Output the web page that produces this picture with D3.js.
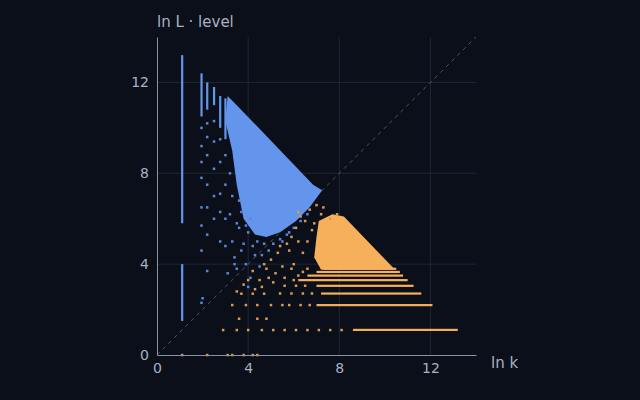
<!DOCTYPE html>
<html><head><meta charset="utf-8">
<script src="https://cdn.jsdelivr.net/npm/d3@7"></script>
<style>body{margin:0;background:#0a0f1a}svg{display:block}</style></head>
<body><svg id="c" width="640" height="400"></svg>
<script>
// Dense regions (outline of packed points)
const blueDense = [[3.1,11.4],[3.5,11.0],[6.85,7.5],[7.25,7.25],[6.7,6.5],[6.1,5.9],[5.4,5.4],[4.8,5.2],[4.3,5.3],[3.8,6.0],[3.5,7.5],[3.3,9.0],[3.0,10.3]];
const orangeDense = [[7.1,5.9],[7.7,6.2],[8.2,6.1],[10.45,3.75],[7.2,3.75],[6.9,4.3],[7.0,5.2]];
// Blue vertical runs: x, yLow, yHigh
const blueRuns = [[1.1,5.8,13.2],[1.1,1.5,4.0],[1.95,10.5,12.4],[2.2,10.8,12.0],[2.5,11.0,11.8],[2.77,10.0,11.4],[3.0,9.5,11.3]];
// Orange horizontal runs: y, xLow, xHigh
const orangeRuns = [[3.80,7.3,10.5],[3.66,7.0,10.66],[3.50,6.6,10.8],[3.30,6.2,11.0],[3.05,7.0,11.26],[2.71,7.2,11.6],[2.20,7.0,12.09],[1.11,8.6,13.2]];
// Sparse points
const bluePts = [[1.95,10.0],[1.95,9.2],[1.95,8.5],[1.95,7.8],[1.95,6.5],[1.95,5.7],[1.95,4.6],[2.2,10.2],[2.2,9.6],[2.2,8.8],[2.2,7.5],[2.2,6.5],[2.2,5.3],[2.2,3.7],[2.5,10.3],[2.5,9.4],[2.5,8.2],[2.5,7.0],[2.5,6.0],[2.77,9.5],[2.77,8.5],[2.77,7.1],[2.77,6.3],[2.77,5.0],[3.0,8.8],[3.0,7.5],[3.0,6.0],[3.0,4.8],[3.2,8.0],[3.2,6.2],[3.3,5.0],[3.3,7.0],[3.4,4.3],[3.5,3.8],[3.5,5.8],[3.6,6.8],[3.7,4.6],[3.9,4.0],[4.1,3.4],[4.3,4.4],[4.5,3.9],[4.6,4.4],[4.9,4.6],[3.6,5.6],[3.8,4.9],[4.0,5.4],[4.2,4.8],[4.4,5.0],[4.7,4.9],[5.1,4.9],[5.4,5.1],[5.7,5.3],[6.0,5.6],[6.3,5.9],[6.6,6.2],[2.0,2.5],[1.95,2.3],[5.5,5.0],[5.8,5.4],[4.0,3.0],[3.4,4.0],[3.1,3.6],[3.9,5.7],[3.7,6.3],[4.1,6.0]];
const orangePts = [[4.2,3.7],[4.5,3.3],[4.8,3.8],[5.0,4.2],[5.3,4.5],[5.5,3.9],[5.7,4.9],[5.9,5.2],[6.1,5.6],[6.3,6.1],[6.5,5.9],[6.7,6.4],[7.0,6.6],[7.3,6.5],[5.2,3.6],[4.9,3.4],[4.6,3.0],[4.3,2.9],[4.0,3.3],[3.8,3.1],[3.5,2.8],[3.3,2.2],[3.7,2.7],[4.2,2.7],[4.7,2.7],[5.0,2.2],[4.4,2.2],[3.9,2.2],[3.6,1.6],[4.4,1.6],[2.9,1.1],[3.5,1.1],[4.0,1.1],[4.6,1.1],[5.1,1.1],[5.6,1.1],[6.1,1.1],[6.6,1.1],[7.1,1.1],[7.6,1.1],[8.1,1.1],[2.2,0],[3.1,0],[3.3,0],[3.8,0],[4.4,0],[1.1,0],[5.8,4.6],[6.0,4.0],[5.4,4.8],[6.2,6.3],[7.6,6.0],[7.9,6.2],[5.1,3.2],[5.6,3.4],[6.6,3.8],[4.7,4.0],[6.4,4.5],[6.6,5.0],[6.8,5.5],[6.2,5.0],[6.0,3.3],[5.6,3.05],[6.1,3.05],[6.5,3.05],[5.9,2.71],[6.4,2.71],[6.8,2.71],[5.4,2.71],[5.8,2.2],[6.3,2.2],[6.7,2.2],[5.5,2.2],[6.4,3.66],[6.2,3.5],[5.9,3.8],[7.2,6.2],[6.9,5.8],[4.8,1.6],[4.2,0.0]];
const xTicks = [0,4,8,12], yTicks = [0,4,8,12];

const svg = d3.select('#c');
const x = d3.scaleLinear().domain([0,14]).range([157,476]);
const y = d3.scaleLinear().domain([0,14]).range([355,37]);
const blue = '#6495ed', orange = '#f6b05c';
const g = svg.append('g');
g.selectAll('.gx').data(xTicks.slice(1)).join('line').attr('x1',d=>x(d)).attr('x2',d=>x(d)).attr('y1',y(0)).attr('y2',y(14)).attr('stroke','#1e2636');
g.selectAll('.gy').data(yTicks.slice(1)).join('line').attr('y1',d=>y(d)).attr('y2',d=>y(d)).attr('x1',x(0)).attr('x2',x(14)).attr('stroke','#1e2636');
g.append('line').attr('x1',x(0)).attr('y1',y(0)).attr('x2',x(14)).attr('y2',y(14)).attr('stroke','#5a6375').attr('stroke-dasharray','4,4').attr('stroke-width',0.8);
const line = d3.line().x(d=>x(d[0])).y(d=>y(d[1]));
g.append('path').attr('d',line(blueDense)+'Z').attr('fill',blue);
g.append('path').attr('d',line(orangeDense)+'Z').attr('fill',orange);
g.selectAll('.br').data(blueRuns).join('rect').attr('x',d=>x(d[0])-1).attr('width',2.2).attr('y',d=>y(d[2])).attr('height',d=>y(d[1])-y(d[2])).attr('fill',blue);
g.selectAll('.or').data(orangeRuns).join('rect').attr('x',d=>x(d[1])).attr('width',d=>x(d[2])-x(d[1])).attr('y',d=>y(d[0])-1).attr('height',2.2).attr('fill',orange);
g.selectAll('.bp').data(bluePts).join('rect').attr('x',d=>x(d[0])-1.2).attr('y',d=>y(d[1])-1.2).attr('width',2.5).attr('height',2.5).attr('fill','#5b86d8');
g.selectAll('.op').data(orangePts).join('rect').attr('x',d=>x(d[0])-1.2).attr('y',d=>y(d[1])-1.2).attr('width',2.5).attr('height',2.5).attr('fill','#d99a50');
const ax = svg.append('g').attr('transform',`translate(0,${y(0)})`).call(d3.axisBottom(x).tickValues(xTicks).tickSize(0).tickPadding(8));
const ay = svg.append('g').attr('transform',`translate(${x(0)},0)`).call(d3.axisLeft(y).tickValues(yTicks).tickSize(0).tickPadding(8));
[ax,ay].forEach(a=>{a.select('.domain').attr('stroke','#8a93a6');a.selectAll('text').attr('fill','#a9b1c2').attr('font-size',14).attr('font-family','DejaVu Sans');});
svg.append('text').attr('x',491).attr('y',368).text('ln k').attr('fill','#a9b1c2').attr('font-size',15).attr('font-family','DejaVu Sans');
svg.append('text').attr('x',157).attr('y',27).text('ln L · level').attr('fill','#a9b1c2').attr('font-size',15).attr('font-family','DejaVu Sans');
</script></body></html>
